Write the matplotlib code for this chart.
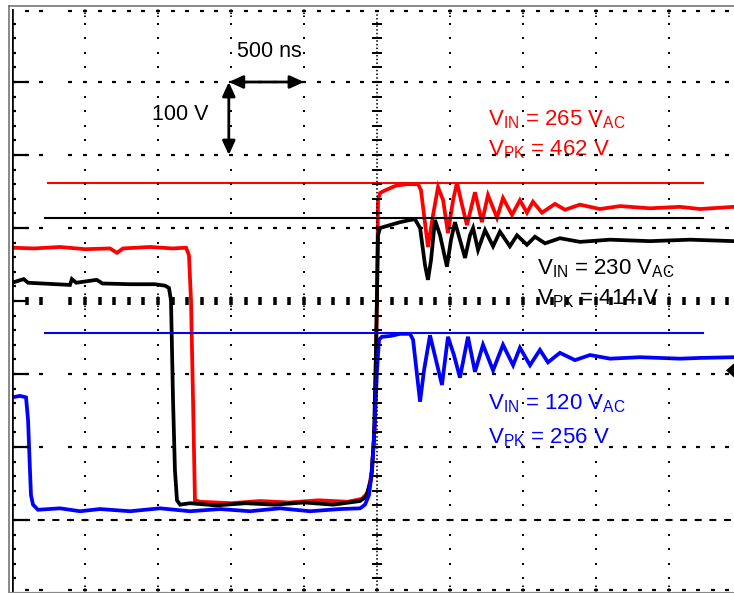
import numpy as np
import matplotlib
matplotlib.use("Agg")
import matplotlib.pyplot as plt
from matplotlib.lines import Line2D
from matplotlib.patches import Polygon

plt.rcParams["font.family"] = "Liberation Sans"
plt.rcParams["mathtext.fontset"] = "custom"
plt.rcParams["mathtext.rm"] = "Liberation Sans"
plt.rcParams["mathtext.it"] = "Liberation Sans:italic"
plt.rcParams["lines.scale_dashes"] = False

W, H, DPI = 734, 593, 100
PT = 72 / DPI  # points per pixel

# scope settings
NS_PER_DIV = 500
V_PER_DIV = 100
V_BOTTOM = -100                      # ground is one division above the bottom edge
T_RIGHT = (W - 12) / 73 * NS_PER_DIV  # screenshot cuts the screen at ~9.9 div
DT = NS_PER_DIV / 73                  # ns per pixel
DV = V_PER_DIV / 73                   # volts per pixel

# ---------- traces (time in ns, volts) ----------
red_t = [0, 150, 329, 500, 671, 719, 760, 945, 1100, 1192, 1212, 1226, 1240, 1253,
         1288, 1500, 1700, 1900, 2100, 2300, 2397, 2438, 2466, 2486, 2500, 2507,
         2521, 2560, 2630, 2700, 2781, 2801, 2849, 2884, 2918, 2953, 2986, 3021,
         3048, 3082, 3116, 3171, 3219, 3260, 3322, 3363, 3425, 3479, 3527, 3568,
         3630, 3719, 3788, 3890, 4027, 4164, 4370, 4575, 4712, 4945]
red_v = [373, 372, 374, 371, 372, 366, 372, 374, 372, 373, 363, 301, 164, 27,
         25, 23, 26, 24, 27, 25, 29, 38, 68, 137, 301, 438,
         448, 452, 458, 460, 460, 452, 374, 418, 456, 438, 393, 438,
         462, 432, 404, 449, 408, 445, 414, 441, 418, 438, 421, 436,
         421, 433, 425, 432, 426, 430, 427, 429, 426, 429]

black_t = [0, 80, 110, 397, 410, 440, 580, 620, 808, 979, 1048, 1075, 1089, 1103,
           1116, 1130, 1151, 1219, 1400, 1600, 1800, 2000, 2200, 2384, 2425, 2459,
           2479, 2493, 2507, 2521, 2589, 2658, 2726, 2760, 2795, 2829, 2849, 2870,
           2897, 2932, 2979, 3007, 3034, 3068, 3103, 3137, 3158, 3192, 3240, 3295,
           3342, 3410, 3459, 3527, 3582, 3651, 3753, 3890, 4096, 4370, 4644, 4945]
black_v = [325, 330, 325, 322, 330, 325, 329, 324, 323, 323, 321, 318, 301, 164,
           68, 27, 21, 23, 20, 23, 21, 24, 21, 26, 32, 55,
           110, 233, 390, 400, 404, 408, 411, 412, 400, 349, 329, 356,
           411, 390, 347, 384, 408, 384, 359, 390, 400, 370, 397, 375,
           395, 375, 390, 377, 388, 379, 386, 381, 384, 382, 384, 382]

blue_t = [0, 55, 96, 110, 123, 130, 144, 178, 329, 466, 603, 808, 1014, 1219, 1425,
          1630, 1836, 2041, 2247, 2384, 2418, 2445, 2466, 2486, 2500, 2514, 2534,
          2589, 2658, 2726, 2747, 2774, 2795, 2822, 2863, 2904, 2945, 2986, 3027,
          3068, 3123, 3171, 3226, 3295, 3363, 3432, 3479, 3548, 3616, 3671, 3753,
          3856, 3959, 4096, 4301, 4575, 4712, 4945]
blue_v = [168, 170, 168, 137, 68, 34, 21, 14, 16, 12, 15, 12, 16, 12, 15,
          12, 16, 12, 15, 16, 21, 34, 68, 137, 205, 247, 251,
          252, 255, 255, 247, 199, 162, 205, 253, 219, 185, 251, 226,
          195, 251, 203, 240, 205, 240, 212, 236, 212, 233, 216, 229,
          219, 226, 221, 223, 221, 222, 223]

# peak reference lines and labels
vin_ac = [265, 230, 120]
v_peak = [462, 414, 256]
peak_start = [247, 226, 226]
peak_end = [4733, 4733, 4733]
colors = ["#ff0000", "#000000", "#0000ff"]
trigger_v = 205

fig = plt.figure(figsize=(W / DPI, H / DPI), dpi=DPI)
ax = fig.add_axes([12 / W, 0, (W - 12) / W, (H - 9) / H])
ax.set_xlim(0, T_RIGHT)
ax.set_ylim(V_BOTTOM, V_BOTTOM + 8 * V_PER_DIV)
ax.axis("off")

# ---------- traces ----------
for t, v, c in [(red_t, red_v, colors[0]), (black_t, black_v, colors[1]),
                (blue_t, blue_v, colors[2])]:
    ax.plot(t, v, color=c, lw=2.7, solid_joinstyle="miter", zorder=3)

for vp, t0, t1, c in zip(v_peak, peak_start, peak_end, colors):
    ax.plot([t0, t1], [vp, vp], color=c, lw=1.5, zorder=3)

# ---------- graticule ----------
GZ = 6
t_minor = np.array([j * NS_PER_DIV / 5 for j in range(1, 50) if j != 3])
v_minor = np.arange(1, 40) * V_PER_DIV / 5 + V_BOTTOM
kw = dict(ls="none", color="black", zorder=GZ, clip_on=False)

for k in range(9):
    v = V_BOTTOM + k * V_PER_DIV
    if k == 0:
        v += 3 * DV
    if k == 8:
        v -= 2 * DV
    if k == 4:
        ax.plot(t_minor, np.full(len(t_minor), v), marker="|", ms=8 * PT, mew=3.5 * PT, **kw)
    else:
        ax.plot(t_minor, np.full(len(t_minor), v), marker="_", ms=4 * PT, mew=2.2 * PT, **kw)
    if 1 <= k <= 7:
        ax.plot([0, 15 * DT], [v, v], color="black", lw=2.2 * PT, zorder=GZ)

# ground marker line
ax.plot([0, T_RIGHT], [0, 0], color="black", lw=2 * PT, ls=(2.5, (7 * PT, 7.6 * PT)), zorder=GZ)

for k in range(1, 10):
    t = k * NS_PER_DIV
    if k == 5:
        ax.plot([t, t], [V_BOTTOM, V_BOTTOM + 8 * V_PER_DIV], color="black", lw=1.6 * PT,
                ls=(0, (1.5 * PT, 2.2 * PT)), zorder=GZ)
        ax.plot(np.full(len(v_minor), t), v_minor, marker="_", ms=10 * PT, mew=2 * PT, **kw)
        continue
    ax.plot(np.full(len(v_minor), t), v_minor, marker="s", ms=2 * PT, mew=0, **kw)
    for a, b in [(700 - 8 * DV, 700), (-100, -100 + 8 * DV), (300 - 9 * DV, 300 + 9 * DV)]:
        ax.plot([t, t], [a, b], color="black", lw=1.8 * PT, ls=(0, (1.5 * PT, 1.5 * PT)),
                zorder=GZ)

# left edge with ticks
ax.plot([0, 0], [V_BOTTOM, V_BOTTOM + 8 * V_PER_DIV], color="black", lw=2.6 * PT, zorder=GZ)
ax.plot(np.full(len(v_minor), 2 * DT), v_minor, marker="_", ms=4 * PT, mew=2.2 * PT, **kw)

# trigger level marker at the right edge (partly cut off by the screenshot)
tip = (726 - 12) * DT
base = (743 - 12) * DT
ax.add_patch(Polygon([[tip, trigger_v], [base, trigger_v + 15 * DV], [base, trigger_v - 15 * DV]],
                     closed=True, facecolor="black", edgecolor="none", zorder=GZ,
                     clip_on=False))

# screenshot frame
fig.add_artist(Line2D([9 / W, 1], [1 - 5.5 / H, 1 - 5.5 / H], color="#666666", lw=1.5 * PT))
fig.add_artist(Line2D([9 / W, 9 / W], [0, 1 - 5.5 / H], color="#666666", lw=1.5 * PT))
fig.add_artist(Line2D([9 / W, 1], [0.8 / H, 0.8 / H], color="#888888", lw=1.2 * PT))

# ---------- scale arrows ----------
arrow = dict(arrowstyle="<|-|>,head_length=0.7,head_width=0.32", color="black",
             lw=2.0, mutation_scale=12, shrinkA=0, shrinkB=0)
ax.annotate("", xy=(2000, 600), xytext=(1485, 600), arrowprops=arrow, zorder=4)
ax.annotate("", xy=(1485, 500), xytext=(1485, 600), arrowprops=arrow, zorder=4)
ax.text(1541, 642, "500 ns", fontsize=15.5, ha="left", va="center", zorder=2)
ax.text(959, 555, "100 V", fontsize=15.5, ha="left", va="center", zorder=2)

# ---------- labels ----------
label_pos = [(3260, 541, 499), (3596, 336, 295), (3260, 151, 105)]
for (t, v1, v2), vin, vp, c in zip(label_pos, vin_ac, v_peak, colors):
    ax.text(t, v1, r"V$_{\rm IN}$ = %d V$_{\rm AC}$" % vin, color=c, fontsize=16,
            ha="left", va="baseline", zorder=2)
    ax.text(t, v2, r"V$_{\rm PK}$ = %d V" % vp, color=c, fontsize=16,
            ha="left", va="baseline", zorder=2)

fig.savefig("out.png", dpi=DPI)
